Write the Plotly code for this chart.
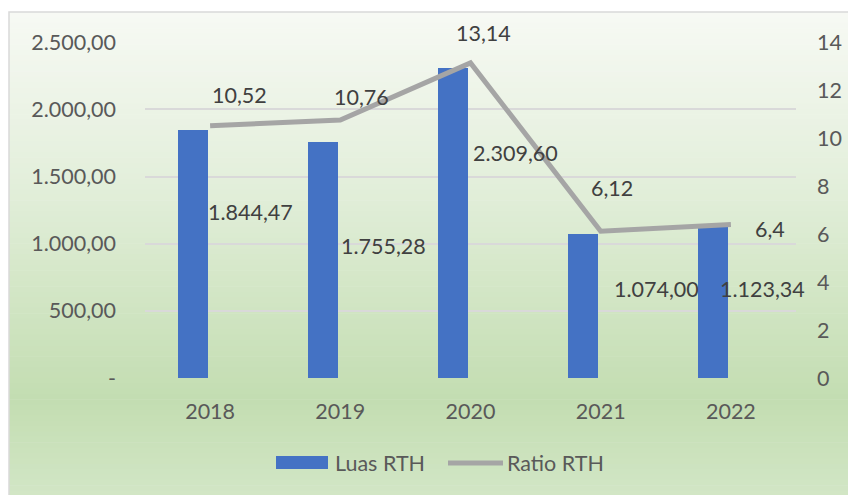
import plotly.graph_objects as go

# data
years = ["2018", "2019", "2020", "2021", "2022"]
luas_rth = [1844.47, 1755.28, 2309.60, 1074.00, 1123.34]
ratio_rth = [10.52, 10.76, 13.14, 6.12, 6.4]
luas_labels = ["1.844,47", "1.755,28", "2.309,60", "1.074,00", "1.123,34"]
ratio_labels = ["10,52", "10,76", "13,14", "6,12", "6,4"]
left_ticks = [0, 500, 1000, 1500, 2000, 2500]
left_ticktext = ["-", "500,00", "1.000,00", "1.500,00", "2.000,00", "2.500,00"]
right_ticks = [0, 2, 4, 6, 8, 10, 12, 14]

# label placement (pixel shifts from the data point)
luas_shift = [(40, -82), (43, -104), (45, -85), (56, -55), (32, -62)]
ratio_shift = [(29, 31), (21, 23), (13, 30), (11, 43), (39, -4)]

W, H = 848, 495
L, R, T, B = 145, 52, 42, 117
PW, PH = W - L - R, H - T - B

FONT = "Lato"
FS = 21.5
BLUE = "#4472c4"
GREY = "#a5a5a5"


def px_x(p):
    return (p - L) / PW


def px_y(p):
    return (H - B - p) / PH


def hex_rgb(h):
    return tuple(int(h[i:i + 2], 16) for i in (1, 3, 5))


def lerp(stops, t):
    for (t0, c0), (t1, c1) in zip(stops, stops[1:]):
        if t0 <= t <= t1:
            f = (t - t0) / (t1 - t0) if t1 > t0 else 0
            a, b = hex_rgb(c0), hex_rgb(c1)
            return "rgb(%d,%d,%d)" % tuple(round(a[i] + (b[i] - a[i]) * f) for i in range(3))
    return stops[-1][1]


fig = go.Figure()

fig.add_trace(go.Bar(
    x=years, y=luas_rth, name="Luas RTH",
    marker=dict(color=BLUE, line=dict(width=0)),
    width=0.23, offset=-0.25, showlegend=False,
))
fig.add_trace(go.Scatter(
    x=years, y=ratio_rth, name="Ratio RTH", yaxis="y2",
    mode="lines", line=dict(color=GREY, width=5),
    showlegend=False,
))

shapes = []
# gradient background of the chart area
stops = [(0.0, "#f7f9f4"), (0.35, "#e3efdb"), (0.8, "#c3ddb1"), (1.0, "#d2e6c6")]
top, bot = 12, H + 1
n = 90
for i in range(n):
    y0 = top + (bot - top) * i / n
    y1 = top + (bot - top) * (i + 1) / n + 0.6
    shapes.append(dict(
        type="rect", xref="paper", yref="paper", layer="below",
        x0=px_x(9), x1=px_x(W + 2), y0=px_y(y1), y1=px_y(y0),
        fillcolor=lerp(stops, (i + 0.5) / n), line=dict(width=0),
    ))
shapes.append(dict(
    type="rect", xref="paper", yref="paper", layer="below",
    x0=px_x(9), x1=px_x(W + 3), y0=px_y(H + 3), y1=px_y(12),
    fillcolor="rgba(0,0,0,0)", line=dict(color="#d9d9d9", width=1.5),
))

# custom legend
shapes.append(dict(
    type="rect", xref="paper", yref="paper",
    x0=px_x(276), x1=px_x(328), y0=px_y(469), y1=px_y(456),
    fillcolor=BLUE, line=dict(width=0),
))
shapes.append(dict(
    type="line", xref="paper", yref="paper",
    x0=px_x(448), x1=px_x(503), y0=px_y(463), y1=px_y(463),
    line=dict(color=GREY, width=5),
))

annotations = [
    dict(text="Luas RTH", xref="paper", yref="paper", x=px_x(333), y=px_y(463),
         xanchor="left", yanchor="middle", showarrow=False,
         font=dict(family=FONT, size=FS, color="#595959")),
    dict(text="Ratio RTH", xref="paper", yref="paper", x=px_x(505), y=px_y(463),
         xanchor="left", yanchor="middle", showarrow=False,
         font=dict(family=FONT, size=FS, color="#595959")),
]

for i, (v, lab, (dx, dy)) in enumerate(zip(luas_rth, luas_labels, luas_shift)):
    annotations.append(dict(
        text=lab, x=i, y=v, xref="x", yref="y", xshift=dx, yshift=dy,
        showarrow=False, xanchor="center", yanchor="middle",
        font=dict(family=FONT, size=FS, color="#404040"),
    ))
for i, (v, lab, (dx, dy)) in enumerate(zip(ratio_rth, ratio_labels, ratio_shift)):
    annotations.append(dict(
        text=lab, x=i, y=v, xref="x", yref="y2", xshift=dx, yshift=dy,
        showarrow=False, xanchor="center", yanchor="middle",
        font=dict(family=FONT, size=FS, color="#404040"),
    ))

fig.update_layout(
    width=W, height=H,
    margin=dict(l=L, r=R, t=T, b=B, autoexpand=False),
    paper_bgcolor="white", plot_bgcolor="rgba(0,0,0,0)",
    font=dict(family=FONT, size=FS, color="#595959"),
    shapes=shapes, annotations=annotations,
    showlegend=False, bargap=0,
    xaxis=dict(
        type="category", range=[-0.5, 4.5], showgrid=False, zeroline=False,
        showline=False, ticks="", ticklabelstandoff=18, automargin=False,
        tickfont=dict(family=FONT, size=FS, color="#595959"),
    ),
    yaxis=dict(
        range=[0, 2502], tickvals=left_ticks, ticktext=left_ticktext,
        showgrid=True, gridcolor="#d9d9d9", gridwidth=1.5, automargin=False,
        zeroline=False, showline=False, ticks="", ticklabelstandoff=28,
        tickfont=dict(family=FONT, size=FS, color="#595959"),
    ),
    yaxis2=dict(
        range=[0, 14 * 2502 / 2500], tickvals=right_ticks, overlaying="y",
        side="right", showgrid=False, zeroline=False, showline=False,
        ticks="", ticklabelstandoff=20, automargin=False,
        tickfont=dict(family=FONT, size=FS, color="#595959"),
    ),
)

# drop the browser's default body margin so the figure fills the window
fig.write_html(
    "out.html",
    config={"displayModeBar": False},
    post_script="document.body.style.margin='0';document.body.style.overflow='hidden';",
)
